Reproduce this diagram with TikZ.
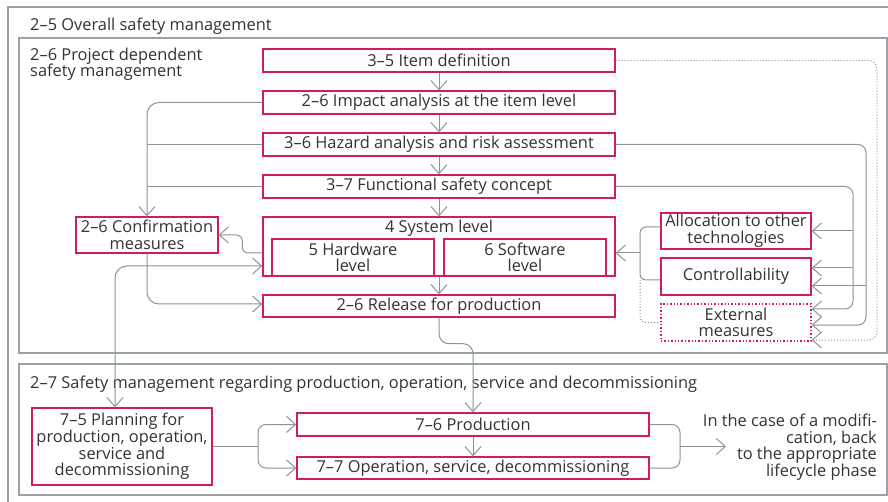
\documentclass[tikz,border=0pt]{standalone}
\usepackage{fontspec}
\setmainfont{Open Sans}
\usetikzlibrary{arrows.meta}
\definecolor{boxred}{HTML}{D31D56}
\definecolor{framegray}{HTML}{9BA2A5}
\definecolor{linegray}{HTML}{8A9599}
\definecolor{txtgray}{HTML}{333333}
\newcommand{\lblfont}{\fontsize{16.4}{16.6}\selectfont}
\tikzset{
  box/.style={draw=boxred, line width=1.4pt, fill=white, inner sep=0pt, align=center,
    text=txtgray, font=\lblfont},
  dotbox/.style={box, dotted},
  lbl/.style={inner sep=0pt, align=left, text=txtgray, font=\lblfont},
  frame/.style={draw=framegray, line width=1.1pt},
  conn/.style={draw=linegray, line width=1pt},
  arr/.style={conn, -{Straight Barb[length=9pt,width=16pt,line width=1pt]}},
  arrboth/.style={conn, {Straight Barb[length=9pt,width=16pt,line width=1pt]}-{Straight Barb[length=9pt,width=16pt,line width=1pt]}},
  dotconn/.style={conn, dotted},
}
\begin{document}
\begin{tikzpicture}[x=1pt,y=-1pt]
\useasboundingbox (0,0) rectangle (888,502);
\fill[white] (0,0) rectangle (888,502);
% frames
\draw[frame] (8,520) -- (8,7) -- (900,7);
\draw[frame] (19,38) rectangle (887,353);
\draw[frame] (19,364) rectangle (887,495);
\node[lbl, anchor=base west] (t25) at (30,31) {2–5 Overall safety management};
\node[lbl, anchor=north west] (t26) at (30,47.5) {2–6 Project dependent\\safety management};
\node[lbl, anchor=base west] (t27) at (30,388) {2–7 Safety management regarding production, operation, service and decommissioning};
% boxes upper
\node[box, minimum width=352pt, minimum height=23pt] (item) at (439,60.5) {3–5 Item definition};
\node[box, minimum width=352pt, minimum height=23pt] (impact) at (439,102.5) {2–6 Impact analysis at the item level};
\node[box, minimum width=352pt, minimum height=23pt] (hazard) at (439,144.5) {3–6 Hazard analysis and risk assessment};
\node[box, minimum width=352pt, minimum height=23pt] (func) at (439,186.5) {3–7 Functional safety concept};
\node[box, minimum width=352pt, minimum height=59pt] (sys) at (439,246.5) {};
\node[lbl] (syslbl) at (439,228.5) {4 System level};
\node[box, minimum width=162pt, minimum height=37pt] (hw) at (353,257.5) {5 Hardware\\level};
\node[box, minimum width=162pt, minimum height=37pt] (sw) at (525,257.5) {6 Software\\level};
\node[box, minimum width=352pt, minimum height=22pt] (rel) at (439,306) {2–6 Release for production};
\node[box, minimum width=142pt, minimum height=36pt] (conf) at (147,235) {2–6 Confirmation\\measures};
\node[box, minimum width=150pt, minimum height=36pt] (alloc) at (736,231) {Allocation to other\\technologies};
\node[box, minimum width=150pt, minimum height=37pt] (ctrl) at (736,276.5) {Controllability};
\node[dotbox, minimum width=150pt, minimum height=37pt] (ext) at (736,322.5) {External\\measures};
% boxes lower
\node[box, minimum width=180pt, minimum height=77pt] (plan) at (122,446.5) {7–5 Planning for\\production, operation,\\service and\\decommissioning};
\node[box, minimum width=352pt, minimum height=23pt] (prod) at (473,424.5) {7–6 Production};
\node[box, minimum width=352pt, minimum height=22pt] (oper) at (473,468) {7–7 Operation, service, decommissioning};
\node[lbl, align=right, anchor=east] (note) at (877,447) {In the case of a modifi-\\cation, back\\to the appropriate\\lifecycle phase};
% main chain
\draw[arr] (item) -- (impact);
\draw[arr] (impact) -- (hazard);
\draw[arr] (hazard) -- (func);
\draw[arr] (func) -- (sys);
\draw[arr] (sys) -- (rel);
% left loop to confirmation
\draw[arr, rounded corners=12pt] (impact.west) -| (conf.north);
\draw[conn] (hazard.west) -- (hazard.west -| conf.north);
\draw[conn] (func.west) -- (func.west -| conf.north);
\draw[arr, rounded corners=6pt] ([yshift=-6.5pt]sys.west) -- ++(-20,0) |- (conf.east);
\draw[arr, rounded corners=12pt] (conf.south) |- ([yshift=2pt]rel.west);
\draw[arrboth, rounded corners=12pt] ([xshift=-7pt]plan.north) |- ([yshift=-19.5pt]sys.west);
% release to production
\draw[arr, rounded corners=10pt] (rel.south) -- ++(0,26) -| (prod.north);
% right side
\coordinate (dc) at (877,340);
\draw[dotconn, -{Straight Barb[length=9pt,width=16pt,line width=1pt]}, rounded corners=8pt] (item.east) -| (dc) -- ([yshift=-17.5pt]ext.east);
\coordinate (hz) at (866,325);
\draw[arr, rounded corners=8pt] (hazard.east) -| (hz) -- ([yshift=-2.5pt]ext.east);
\draw[arr] (hazard.east -| hz) ++(0,141.5) -- ([yshift=-9.5pt]ctrl.east);
\coordinate (fc) at (853,309);
\draw[arr, rounded corners=8pt] (func.east) -| (fc) -- ([yshift=13.5pt]ext.east);
\draw[arr] (func.east -| fc) ++(0,44.5) -- (alloc.east);
\draw[arr] (func.east -| fc) ++(0,81.5) -- ([yshift=8.5pt]ctrl.east);
% left bracket
\coordinate (lb) at (640,253);
\draw[conn, rounded corners=6pt] ([yshift=4pt]alloc.west) -| (lb) |- ([yshift=-3.5pt]ctrl.west);
\draw[arr] (lb) -- ([yshift=-6.5pt]sys.east);
\draw[dotconn, rounded corners=6pt] (640,280) |- (ext.west);
% bottom
\coordinate (pb) at (258,446.5);
\draw[conn] (plan.east) -- (pb);
\draw[arr, rounded corners=8pt] (pb) |- (prod.west);
\draw[arr, rounded corners=8pt] (pb) |- (oper.west);
\draw[arr] (prod) -- (oper);
\coordinate (rb) at (680,446.5);
\coordinate (rt) at (726,446.5);
\draw[conn, rounded corners=8pt] (prod.east) -| (rb) |- (oper.east);
\draw[arr] (rb) -- (rt);
\end{tikzpicture}
\end{document}
